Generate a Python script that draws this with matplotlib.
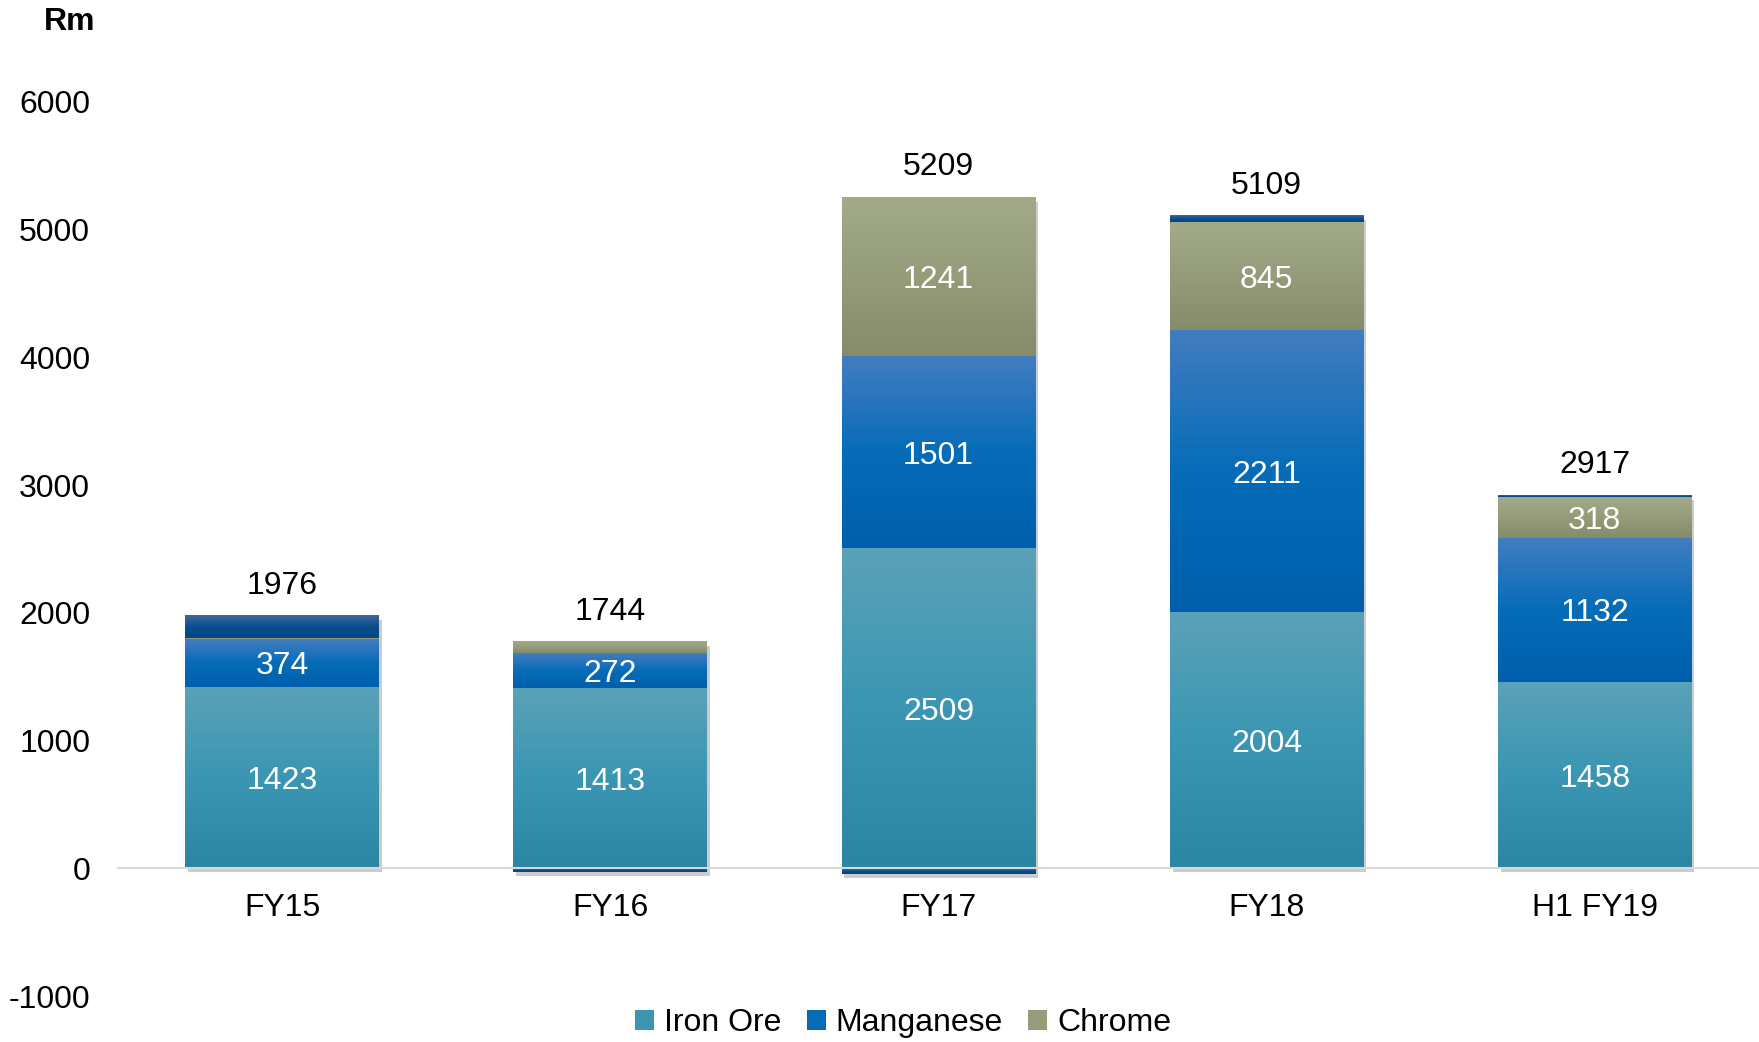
import numpy as np
import matplotlib
matplotlib.use("Agg")
import matplotlib.pyplot as plt
from matplotlib.colors import LinearSegmentedColormap
from matplotlib.patches import Patch
import matplotlib.patheffects as pe

plt.rcParams['font.family'] = ['Liberation Sans', 'DejaVu Sans']
plt.rcParams['axes.unicode_minus'] = False

periods = ["FY15", "FY16", "FY17", "FY18", "H1 FY19"]
iron_ore = [1423, 1413, 2509, 2004, 1458]
manganese = [374, 272, 1501, 2211, 1132]
chrome = [4, 87, 1241, 845, 318]
other = [175, -28, -42, 49, 9]
totals = [1976, 1744, 5209, 5109, 2917]

series = [
    ("Iron Ore", iron_ore, ["#5ba2b8", "#3a96b3", "#2b86a4"], True),
    ("Manganese", manganese, ["#437dc0", "#066cb8", "#005fac"], True),
    ("Chrome", chrome, ["#a3aa8a", "#959c7a", "#868c69"], True),
    ("Other", other, ["#436799", "#0a4f8d", "#004785"], False),
]

W, H = 1759, 1042
FS = 23
fig = plt.figure(figsize=(W / 100, H / 100), dpi=100)
ax = fig.add_axes([118 / W, 46 / H, 1 - 118 / W, (996 - 102) / H])

x = np.arange(len(periods))
width = 0.59
pos_base = np.zeros(len(periods))
neg_base = np.zeros(len(periods))
grad = np.linspace(0, 1, 256).reshape(-1, 1)

handles = []
for name, vals, cols, show in series:
    cmap = LinearSegmentedColormap.from_list(name, cols)
    vals = np.array(vals, dtype=float)
    bottoms = np.where(vals >= 0, pos_base, neg_base)
    ax.bar(x, vals, width, bottom=bottoms, color=cols[1], zorder=1,
           path_effects=[pe.SimplePatchShadow(offset=(2, -3), shadow_rgbFace="#808080", alpha=0.4), pe.Normal()])
    for xi, b, v in zip(x, bottoms, vals):
        lo, hi = min(b, b + v), max(b, b + v)
        ax.imshow(grad, cmap=cmap, aspect="auto", zorder=2,
                  extent=[xi - width / 2, xi + width / 2, lo, hi], interpolation="bilinear")
    if show:
        for xi, b, v in zip(x, bottoms, vals):
            if v > 150:
                ax.text(xi, b + v / 2, f"{int(v)}", ha="center", va="center_baseline",
                        color="white", fontsize=FS, zorder=4)
        handles.append(Patch(facecolor=cols[1], label=name))
    pos_base = pos_base + np.where(vals >= 0, vals, 0)
    neg_base = neg_base + np.where(vals < 0, vals, 0)

for xi, top, t in zip(x, pos_base, totals):
    ax.annotate(f"{t}", (xi, top), xytext=(0, 11), textcoords="offset points",
                ha="center", va="bottom", fontsize=FS, color="black", annotation_clip=False)

ax.set_xlim(-0.5, 4.5)
ax.set_ylim(-1000, 6000)
ax.set_yticks(np.arange(-1000, 6001, 1000))
ax.set_xticks(x, periods)
for s in ["top", "right", "left"]:
    ax.spines[s].set_visible(False)
ax.spines["bottom"].set_position(("data", 0))
ax.spines["bottom"].set_color("#d9d9d9")
ax.spines["bottom"].set_linewidth(1.5)
ax.spines["bottom"].set_zorder(3)
ax.tick_params(axis="x", length=0, pad=18, labelsize=FS)
ax.tick_params(axis="y", length=0, pad=20, labelsize=FS)

fig.text(70 / W, 1 - 22 / H, "Rm", fontsize=FS, fontweight="bold", ha="center", va="center")

fig.legend(handles=handles, loc="center", bbox_to_anchor=(903 / W, 1 - 1023 / H), ncol=3,
           frameon=False, fontsize=FS, handlelength=0.6, handleheight=0.6,
           handletextpad=0.3, columnspacing=0.8)

fig.savefig("out.png", dpi=100)
